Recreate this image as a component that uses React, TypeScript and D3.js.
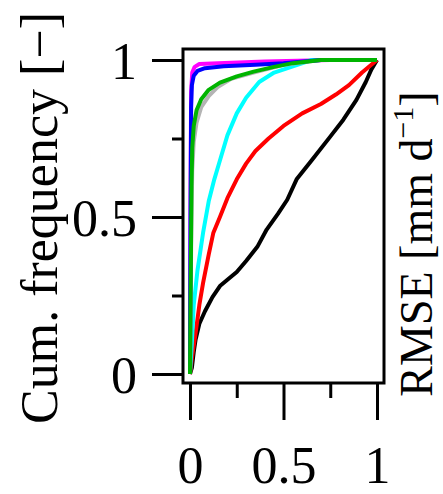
import React, { useEffect, useRef } from 'react';
import * as d3 from 'd3';

const blackCurve = [[0, 0], [0.01, 0.02], [0.02, 0.07], [0.03, 0.11], [0.05, 0.16], [0.08, 0.2], [0.12, 0.245], [0.16, 0.28], [0.2, 0.3], [0.25, 0.325], [0.3, 0.36], [0.36, 0.405], [0.41, 0.46], [0.47, 0.51], [0.52, 0.555], [0.57, 0.62], [0.65, 0.68], [0.75, 0.756], [0.82, 0.81], [0.89, 0.873], [0.94, 0.93], [0.97, 0.97], [1, 1]];
const redCurve = [[0, 0], [0.01, 0.05], [0.03, 0.13], [0.05, 0.22], [0.07, 0.29], [0.1, 0.38], [0.125, 0.45], [0.16, 0.5], [0.2, 0.56], [0.25, 0.62], [0.3, 0.67], [0.35, 0.71], [0.42, 0.75], [0.5, 0.79], [0.6, 0.83], [0.7, 0.86], [0.78, 0.89], [0.85, 0.92], [0.92, 0.96], [1, 1]];
const cyanCurve = [[0, 0], [0.01, 0.1], [0.02, 0.22], [0.04, 0.33], [0.07, 0.45], [0.1, 0.55], [0.13, 0.62], [0.16, 0.68], [0.2, 0.76], [0.25, 0.83], [0.3, 0.88], [0.37, 0.93], [0.45, 0.96], [0.55, 0.98], [0.65, 1], [1, 1]];
const grayCurve = [[0, 0], [0.006, 0.4], [0.012, 0.65], [0.02, 0.74], [0.035, 0.8], [0.06, 0.85], [0.1, 0.885], [0.15, 0.915], [0.22, 0.94], [0.34, 0.96], [0.5, 0.985], [0.7, 1], [1, 1]];
const blueCurve = [[0, 0], [0.003, 0.5], [0.006, 0.85], [0.01, 0.92], [0.02, 0.95], [0.04, 0.965], [0.08, 0.974], [0.18, 0.98], [0.35, 0.985], [0.5, 0.99], [0.7, 1], [1, 1]];
const greenCurve = [[0, 0], [0.004, 0.3], [0.008, 0.6], [0.012, 0.72], [0.02, 0.79], [0.035, 0.84], [0.06, 0.875], [0.1, 0.905], [0.16, 0.928], [0.25, 0.948], [0.34, 0.963], [0.45, 0.978], [0.55, 0.99], [0.7, 1], [1, 1]];
const magentaCurve = [[0, 0], [0.003, 0.6], [0.006, 0.9], [0.012, 0.96], [0.025, 0.978], [0.05, 0.987], [0.15, 0.99], [0.4, 0.995], [0.75, 1], [1, 1]];

const majorTicks = [0, 0.5, 1];
const minorTicks = [0.25, 0.75];
const yTitle = 'Cum. frequency [\u2212]';

const series = [
  { data: magentaCurve, color: '#ff00ff' },
  { data: blackCurve, color: '#000000' },
  { data: redCurve, color: '#ff0000' },
  { data: cyanCurve, color: '#00ffff' },
  { data: grayCurve, color: '#b4b4b4' },
  { data: blueCurve, color: '#0000ff' },
  { data: greenCurve, color: '#00b400' },
];

const W = 443;
const H = 494;
const FONT = '"Liberation Serif", "Times New Roman", serif';

const App = () => {
  const ref = useRef(null);

  useEffect(() => {
    const svg = d3.select(ref.current);
    svg.selectAll('*').remove();

    const x = d3.scaleLinear().domain([0, 1]).range([190, 377]);
    const y = d3.scaleLinear().domain([0, 1]).range([374, 60]);
    const box = { left: 183, top: 49, right: 384, bottom: 383 };

    const line = d3
      .line()
      .x(d => x(d[0]))
      .y(d => y(d[1]));

    svg
      .append('g')
      .selectAll('path')
      .data(series)
      .join('path')
      .attr('d', d => line(d.data))
      .attr('fill', 'none')
      .attr('stroke', d => d.color)
      .attr('stroke-width', 4)
      .attr('stroke-linejoin', 'round');

    svg
      .append('rect')
      .attr('x', box.left)
      .attr('y', box.top)
      .attr('width', box.right - box.left)
      .attr('height', box.bottom - box.top)
      .attr('fill', 'none')
      .attr('stroke', '#000')
      .attr('stroke-width', 3);

    const styleAxis = g => {
      g.select('.domain').remove();
      g.selectAll('line').attr('stroke-width', 3);
      g.selectAll('text').attr('font-family', FONT).attr('font-size', 52).attr('fill', '#000');
    };

    svg
      .append('g')
      .attr('transform', `translate(${box.left},0)`)
      .call(d3.axisLeft(y).tickValues(majorTicks).tickSize(31).tickPadding(15).tickFormat(d3.format('')))
      .call(styleAxis)
      .selectAll('text')
      .attr('dy', '0.35em');

    svg
      .append('g')
      .attr('transform', `translate(${box.left},0)`)
      .call(d3.axisLeft(y).tickValues(minorTicks).tickSize(11).tickFormat(() => ''))
      .call(styleAxis);

    svg
      .append('g')
      .attr('transform', `translate(0,${box.bottom})`)
      .call(d3.axisBottom(x).tickValues(majorTicks).tickSize(37).tickPadding(26).tickFormat(d3.format('')))
      .call(styleAxis);

    svg
      .append('g')
      .attr('transform', `translate(0,${box.bottom})`)
      .call(d3.axisBottom(x).tickValues(minorTicks).tickSize(15).tickFormat(() => ''))
      .call(styleAxis);

    svg
      .append('text')
      .attr('transform', 'translate(57,218) rotate(-90)')
      .attr('text-anchor', 'middle')
      .attr('font-family', FONT)
      .attr('font-size', 52)
      .text(yTitle);

    const rt = svg
      .append('text')
      .attr('transform', 'translate(432,244) rotate(-90)')
      .attr('text-anchor', 'middle')
      .attr('font-family', FONT)
      .attr('font-size', 46);
    rt.append('tspan').text('RMSE [mm d');
    rt.append('tspan').attr('font-size', 30).attr('dy', -19).text('\u22121');
    rt.append('tspan').attr('dy', 19).text(']');
  }, []);

  return (
    <svg
      ref={ref}
      width={W}
      height={H}
      style={{ position: 'absolute', left: 0, top: 0, background: '#fff' }}
    />
  );
};

export default App;
